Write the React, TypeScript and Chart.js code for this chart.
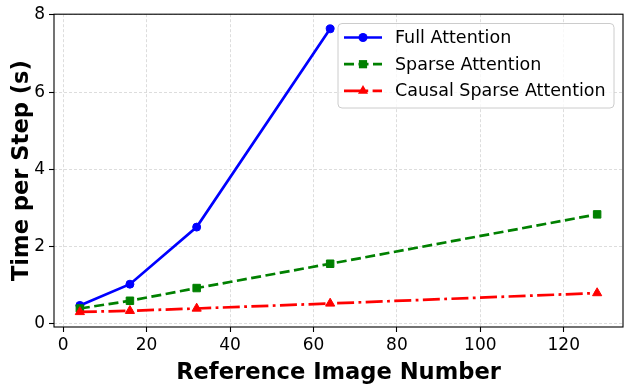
import { useEffect, useRef } from 'react';
import { Chart, registerables } from 'chart.js';
Chart.register(...registerables);

const seriesLabels = ['Full Attention', 'Sparse Attention', 'Causal Sparse Attention'];
const fullX = [4, 16, 32, 64];
const fullY = [0.47, 1.02, 2.5, 7.64];
const sparseX = [4, 16, 32, 64, 128];
const sparseY = [0.39, 0.59, 0.92, 1.55, 2.83];
const causalX = [4, 16, 32, 64, 128];
const causalY = [0.3, 0.33, 0.39, 0.52, 0.79];
const xTicks = [0, 20, 40, 60, 80, 100, 120];
const yTicks = [0, 2, 4, 6, 8];
const xTitle = 'Reference Image Number';
const yTitle = 'Time per Step (s)';

const toPts = (xs: number[], ys: number[]) => xs.map((x, i) => ({ x, y: ys[i] }));

function drawMarker(ctx: CanvasRenderingContext2D, style: string, x: number, y: number, r: number) {
  ctx.beginPath();
  if (style === 'circle') {
    ctx.arc(x, y, r, 0, Math.PI * 2);
  } else if (style === 'rect') {
    const s = Math.SQRT1_2 * r;
    ctx.rect(x - s, y - s, 2 * s, 2 * s);
  } else if (style === 'triangle') {
    for (let k = 0; k < 3; k++) {
      const a = (k * 2 * Math.PI) / 3;
      const px = x + Math.sin(a) * r;
      const py = y - Math.cos(a) * r;
      if (k === 0) ctx.moveTo(px, py);
      else ctx.lineTo(px, py);
    }
    ctx.closePath();
  }
  ctx.fill();
}

const framePlugin = {
  id: 'frame',
  afterDatasetsDraw(chart: any) {
    const { ctx, chartArea } = chart;
    ctx.save();
    ctx.strokeStyle = '#000';
    ctx.lineWidth = 1.1;
    ctx.setLineDash([]);
    ctx.strokeRect(chartArea.left, chartArea.top, chartArea.right - chartArea.left, chartArea.bottom - chartArea.top);
    ctx.restore();
  },
};

const legendPlugin = {
  id: 'mplLegend',
  afterDraw(chart: any) {
    const { ctx, chartArea } = chart;
    const right = chartArea.right - 9;
    const top = chartArea.top + 9.3;
    const w = 276;
    const h = 84.5;
    const left = right - w;
    ctx.save();
    ctx.beginPath();
    const rr = 4;
    ctx.moveTo(left + rr, top);
    ctx.arcTo(right, top, right, top + h, rr);
    ctx.arcTo(right, top + h, left, top + h, rr);
    ctx.arcTo(left, top + h, left, top, rr);
    ctx.arcTo(left, top, right, top, rr);
    ctx.closePath();
    ctx.fillStyle = 'rgba(255,255,255,0.8)';
    ctx.fill();
    ctx.strokeStyle = '#cccccc';
    ctx.lineWidth = 1;
    ctx.stroke();
    chart.data.datasets.forEach((ds: any, i: number) => {
      const y = top + 14 + i * 26.7;
      ctx.strokeStyle = ds.borderColor;
      ctx.lineWidth = ds.borderWidth;
      ctx.setLineDash(ds.borderDash || []);
      ctx.beginPath();
      ctx.moveTo(left + 6, y);
      ctx.lineTo(left + 44, y);
      ctx.stroke();
      ctx.setLineDash([]);
      ctx.fillStyle = ds.pointBackgroundColor;
      drawMarker(ctx, ds.pointStyle, left + 25, y, ds.pointRadius + 0.5);
      ctx.fillStyle = '#000';
      ctx.font = '17.5px "DejaVu Sans"';
      ctx.textBaseline = 'middle';
      ctx.textAlign = 'left';
      ctx.fillText(ds.label, left + 57, y + 1);
    });
    ctx.restore();
  },
};

export default function App() {
  const ref = useRef<HTMLCanvasElement>(null);
  useEffect(() => {
    const canvas = ref.current!;
    const tickFont = { family: 'DejaVu Sans', size: 17 };
    const titleFont = { family: 'DejaVu Sans', size: 22.6, weight: 'bold' as const };
    const gridCfg = {
      color: 'rgba(176,176,176,0.55)',
      lineWidth: 0.8,
      tickColor: '#000',
      tickLength: 5,
      tickWidth: 1.1,
      tickBorderDash: [],
    };
    const chart = new Chart(canvas, {
      type: 'line',
      data: {
        datasets: [
          {
            label: seriesLabels[0],
            data: toPts(fullX, fullY),
            borderColor: '#0000ff',
            backgroundColor: '#0000ff',
            pointBackgroundColor: '#0000ff',
            pointBorderColor: '#0000ff',
            borderWidth: 2.7,
            borderDash: [],
            pointStyle: 'circle',
            pointRadius: 4,
            pointBorderWidth: 1,
            order: 2,
          },
          {
            label: seriesLabels[1],
            data: toPts(sparseX, sparseY),
            borderColor: '#008000',
            backgroundColor: '#008000',
            pointBackgroundColor: '#008000',
            pointBorderColor: '#008000',
            borderWidth: 2.7,
            borderDash: [10, 4.5],
            pointStyle: 'rect',
            pointRadius: 5.3,
            pointBorderWidth: 1,
            order: 1,
          },
          {
            label: seriesLabels[2],
            data: toPts(causalX, causalY),
            borderColor: '#ff0000',
            backgroundColor: '#ff0000',
            pointBackgroundColor: '#ff0000',
            pointBorderColor: '#ff0000',
            borderWidth: 2.7,
            borderDash: [17, 4.4, 2.8, 4.4],
            pointStyle: 'triangle',
            pointRadius: 5.3,
            pointBorderWidth: 1,
            order: 0,
          },
        ] as any,
      },
      options: {
        animation: false,
        responsive: false,
        devicePixelRatio: 1,
        layout: { padding: { top: 14, right: 8, left: 0, bottom: 0 } },
        plugins: { legend: { display: false }, tooltip: { enabled: false } },
        elements: { line: { tension: 0 } },
        scales: {
          x: {
            type: 'linear',
            min: -2.2,
            max: 134.2,
            afterBuildTicks: (s: any) => {
              s.ticks = xTicks.map((v) => ({ value: v }));
            },
            afterFit: (s: any) => {
              s.height = 60;
            },
            ticks: { font: tickFont, color: '#000', padding: 3, maxRotation: 0, autoSkip: false },
            grid: gridCfg,
            border: { display: false, dash: [3, 2] },
            title: { display: true, text: xTitle, font: titleFont, color: '#000', padding: { top: 0, bottom: 0 } },
          },
          y: {
            type: 'linear',
            min: -0.09,
            max: 8.02,
            afterBuildTicks: (s: any) => {
              s.ticks = yTicks.map((v) => ({ value: v }));
            },
            afterFit: (s: any) => {
              s.width = 54;
            },
            ticks: { font: tickFont, color: '#000', padding: 4, autoSkip: false },
            grid: gridCfg,
            border: { display: false, dash: [3, 2] },
            title: { display: true, text: yTitle, font: titleFont, color: '#000', padding: { top: 9, bottom: 0 } },
          },
        },
      } as any,
      plugins: [framePlugin, legendPlugin],
    });
    return () => chart.destroy();
  }, []);
  return (
    <div style={{ position: 'fixed', left: 0, top: 0, width: 631, height: 387, background: '#fff' }}>
      <canvas ref={ref} width={631} height={387} style={{ display: 'block', width: 631, height: 387 }} />
    </div>
  );
}
